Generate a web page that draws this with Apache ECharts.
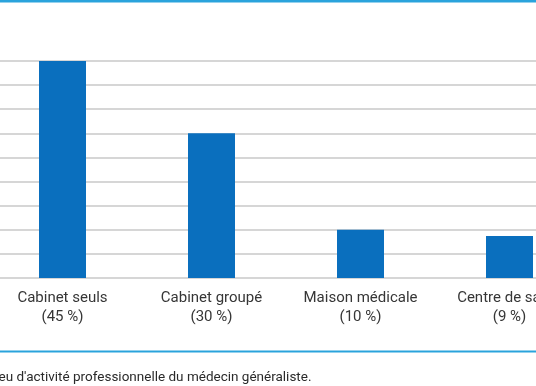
<!DOCTYPE html>
<html>
<head>
<meta charset="utf-8">
<script src="https://cdn.jsdelivr.net/npm/echarts@6/dist/echarts.min.js"></script>
<style>
html,body{margin:0;padding:0;background:#fff;overflow:hidden;width:536px;height:386px;position:relative;}
#chart{position:absolute;left:-112px;top:0;width:760px;height:386px;}
</style>
</head>
<body>
<div id="chart"></div>
<script>
var categories = ['Cabinet seuls', 'Cabinet groupé', 'Maison médicale', 'Centre de santé'];
var shareLabels = ['45 %', '30 %', '10 %', '9 %'];
var values = [45, 30, 10, 8.7];
var yTicks = {min: 0, max: 45, interval: 5};
var caption = "Lieu d'activité professionnelle du médecin généraliste.";

var OFF = 112; // chart div is shifted left by this many pixels
var chart = echarts.init(document.getElementById('chart'), null, {renderer: 'canvas'});
var fontFam = 'Roboto, "Noto Sans", sans-serif';
chart.setOption({
  animation: false,
  backgroundColor: '#ffffff',
  grid: {left: 100, width: 596, top: 61, height: 217, containLabel: false},
  xAxis: {
    type: 'category',
    data: categories,
    axisLine: {show: false},
    axisTick: {show: false},
    axisLabel: {
      margin: 11,
      color: '#363636',
      fontFamily: fontFam,
      fontSize: 15,
      lineHeight: 19,
      interval: 0,
      formatter: function (v, i) { return v + '\n(' + shareLabels[i] + ')'; }
    }
  },
  yAxis: {
    type: 'value',
    min: yTicks.min, max: yTicks.max, interval: yTicks.interval,
    axisLabel: {show: false},
    axisLine: {show: false},
    axisTick: {show: false},
    splitLine: {lineStyle: {color: '#c9c9c9', width: 1.5}}
  },
  series: [{
    type: 'bar',
    data: values,
    barWidth: 47,
    itemStyle: {color: '#0a6fbe'}
  }],
  graphic: [
    {type: 'rect', shape: {x: OFF, y: 0, width: 536, height: 2.5}, style: {fill: '#2aa3dc'}},
    {type: 'rect', shape: {x: OFF, y: 350.5, width: 536, height: 2}, style: {fill: '#2aa3dc'}},
    {type: 'text', x: OFF - 12, y: 378, style: {text: caption, fill: '#2a2a2a', font: '13.5px ' + fontFam, verticalAlign: 'middle', align: 'left'}}
  ]
});
</script>
</body>
</html>
